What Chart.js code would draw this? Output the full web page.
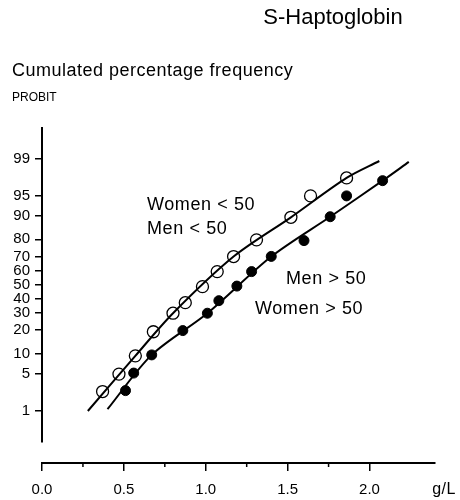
<!DOCTYPE html>
<html>
<head>
<meta charset="utf-8">
<script src="https://cdn.jsdelivr.net/npm/chart.js@4.4.0/dist/chart.umd.min.js"></script>
<style>
    body { margin: 0; background: #fff; }
    #wrap { width: 460px; height: 500px; position: relative; }
</style>
</head>
<body>
<div id="wrap"><canvas id="grafico"></canvas></div>
<script>
// values (x in g/L, y in cumulated %)
const menosX = [0.37, 0.47, 0.57, 0.68, 0.80, 0.875, 0.98, 1.07, 1.17, 1.31, 1.52, 1.64, 1.86];
const menosPct = [2.4, 4.9, 9.4, 19.2, 29.9, 37, 48.6, 59.6, 69.9, 79.7, 89.4, 95, 97.6];
const maisX = [0.51, 0.56, 0.67, 0.86, 1.01, 1.08, 1.19, 1.28, 1.40, 1.60, 1.76, 1.86, 2.08];
const maisPct = [2.5, 5.1, 9.7, 19.8, 29.9, 38.4, 49, 59.6, 70, 79.3, 89.6, 95, 97.3];

// fitted curves
const curvaMenosX = [0.28, 0.57, 0.80, 1.17, 1.52, 1.86, 2.06];
const curvaMenosPct = [0.97, 9.4, 29.9, 69.9, 89.4, 97.6, 98.9];
const curvaMaisX = [0.40, 0.67, 1.01, 1.40, 1.76, 2.08, 2.24];
const curvaMaisPct = [1.06, 9.7, 29.9, 69.9, 89.6, 97.3, 98.85];

const yTickPct = [1, 5, 10, 20, 30, 40, 50, 60, 70, 80, 90, 95, 99];
const xMinorTicks = [0.25, 0.75, 1.25, 1.75];

// inverse normal (Acklam) -> probit scale in z units
function probit(pct) {
    const p = pct / 100;
    const a = [-3.969683028665376e+01, 2.209460984245205e+02, -2.759285104469687e+02, 1.383577518672690e+02, -3.066479806614716e+01, 2.506628277459239e+00];
    const b = [-5.447609879822406e+01, 1.615858368580409e+02, -1.556989798598866e+02, 6.680131188771972e+01, -1.328068155288572e+01];
    const c = [-7.784894002430293e-03, -3.223964580411365e-01, -2.400758277161838e+00, -2.549671010329972e+00, 4.374664141464968e+00, 2.938163982698783e+00];
    const d = [7.784695709041462e-03, 3.224671290700398e-01, 2.445134137142996e+00, 3.754408661907416e+00];
    const plow = 0.02425;
    let q, r;
    if (p < plow) {
        q = Math.sqrt(-2 * Math.log(p));
        return (((((c[0]*q+c[1])*q+c[2])*q+c[3])*q+c[4])*q+c[5]) / ((((d[0]*q+d[1])*q+d[2])*q+d[3])*q+1);
    }
    if (p <= 1 - plow) {
        q = p - 0.5; r = q * q;
        return (((((a[0]*r+a[1])*r+a[2])*r+a[3])*r+a[4])*r+a[5])*q / (((((b[0]*r+b[1])*r+b[2])*r+b[3])*r+b[4])*r+1);
    }
    q = Math.sqrt(-2 * Math.log(1 - p));
    return -(((((c[0]*q+c[1])*q+c[2])*q+c[3])*q+c[4])*q+c[5]) / ((((d[0]*q+d[1])*q+d[2])*q+d[3])*q+1);
}

function pontos(xs, pcts) {
    return xs.map((x, i) => ({ x: x, y: probit(pcts[i]) }));
}

Chart.defaults.font.family = "'Liberation Sans', Arial, sans-serif";
Chart.defaults.color = '#000';

const textos = {
    id: 'textos',
    afterDraw(chart) {
        const ctx = chart.ctx;
        const area = chart.chartArea;
        const y = chart.scales.y;
        const x = chart.scales.x;
        ctx.save();

        // y axis line stops above the x axis
        ctx.strokeStyle = '#000';
        ctx.lineWidth = 2;
        ctx.beginPath();
        ctx.moveTo(area.left, area.top);
        ctx.lineTo(area.left, y.getPixelForValue(-2.92));
        ctx.stroke();

        // minor ticks on x
        ctx.lineWidth = 1.5;
        xMinorTicks.forEach(v => {
            const px = x.getPixelForValue(v);
            ctx.beginPath();
            ctx.moveTo(px, area.bottom);
            ctx.lineTo(px, area.bottom + 4);
            ctx.stroke();
        });

        ctx.fillStyle = '#000';
        const escrever = (txt, px, py, size, align, base, spacing) => {
            ctx.font = size + "px 'Liberation Sans', Arial, sans-serif";
            ctx.textAlign = align;
            ctx.textBaseline = base;
            ctx.letterSpacing = (spacing || 0) + 'px';
            ctx.fillText(txt, px, py);
        };
        escrever('S-Haptoglobin', 333, 24, 22, 'center', 'alphabetic', 0);
        escrever('Cumulated percentage frequency', 12, 76, 18, 'left', 'alphabetic', 0.5);
        escrever('PROBIT', 12, 101, 12, 'left', 'alphabetic', 0);
        escrever('Women < 50', 147, 205, 18, 'left', 'middle', 0.6);
        escrever('Men < 50', 147, 229, 18, 'left', 'middle', 0.6);
        escrever('Men > 50', 286, 279, 18, 'left', 'middle', 0.6);
        escrever('Women > 50', 255, 309, 18, 'left', 'middle', 0.6);
        escrever('g/L', 444, 490, 16, 'center', 'middle', 0.5);
        ctx.restore();
    }
};

const contexto = document.getElementById('grafico').getContext('2d');

const grafico = new Chart(contexto, {
    type: 'scatter',
    data: {
        datasets: [{
            label: 'curva < 50',
            data: pontos(curvaMenosX, curvaMenosPct),
            showLine: true,
            borderColor: '#000',
            borderWidth: 2,
            pointRadius: 0,
            tension: 0.3,
        }, {
            label: 'curva > 50',
            data: pontos(curvaMaisX, curvaMaisPct),
            showLine: true,
            borderColor: '#000',
            borderWidth: 2,
            pointRadius: 0,
            tension: 0.3,
        }, {
            label: '< 50',
            data: pontos(menosX, menosPct),
            pointRadius: 6,
            pointBackgroundColor: 'rgba(0,0,0,0)',
            pointBorderColor: '#000',
            pointBorderWidth: 1.3,
        }, {
            label: '> 50',
            data: pontos(maisX, maisPct),
            pointRadius: 5,
            pointBackgroundColor: '#000',
            pointBorderColor: '#000',
            pointBorderWidth: 1,
        }]
    },
    options: {
        responsive: true,
        maintainAspectRatio: false,
        animation: false,
        layout: {
            padding: { top: 127, right: 25, left: 0, bottom: 0 }
        },
        scales: {
            x: {
                type: 'linear',
                min: 0,
                max: 2.4,
                afterFit: (scale) => { scale.height = 37; },
                border: { display: true, color: '#000', width: 2 },
                grid: { drawOnChartArea: false, tickLength: 8, color: '#000', lineWidth: 1.5 },
                ticks: {
                    stepSize: 0.5,
                    includeBounds: false,
                    padding: 10,
                    maxRotation: 0,
                    color: '#000',
                    font: { size: 15 },
                    callback: (v) => v.toFixed(1)
                }
            },
            y: {
                min: -3.3,
                max: 2.92,
                afterFit: (scale) => { scale.width = 42; },
                afterBuildTicks: (scale) => {
                    scale.ticks = yTickPct.map(p => ({ value: probit(p) }));
                },
                border: { display: false },
                grid: { drawOnChartArea: false, tickLength: 7, color: '#000', lineWidth: 1.5 },
                ticks: {
                    autoSkip: false,
                    padding: 5,
                    color: '#000',
                    font: { size: 15 },
                    callback: (v, i) => String(yTickPct[i])
                }
            }
        },
        plugins: {
            legend: { display: false },
            tooltip: { enabled: false }
        }
    },
    plugins: [textos]
});
</script>
</body>
</html>
